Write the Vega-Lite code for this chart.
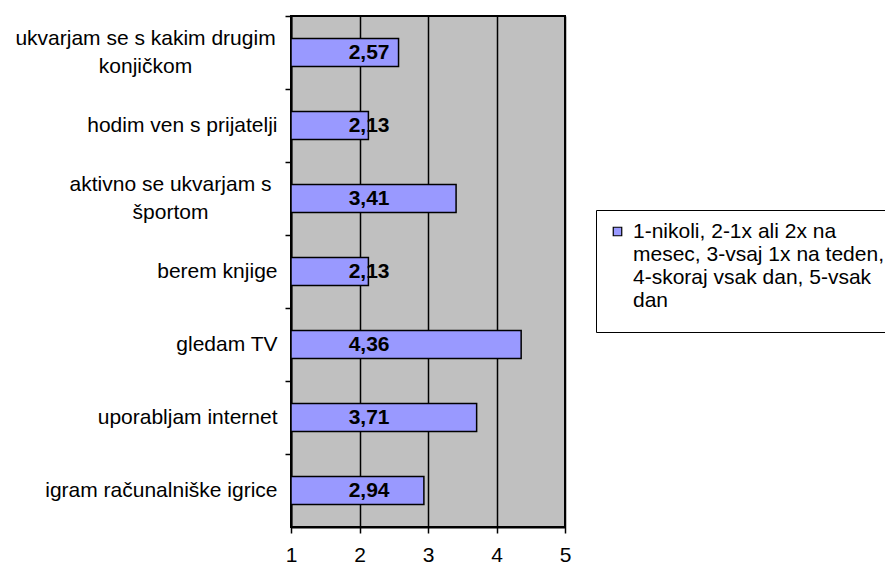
{
  "$schema": "https://vega.github.io/schema/vega-lite/v6.json",
  "width": 274,
  "height": 511,
  "autosize": "none",
  "padding": {"left": 291, "top": 16, "right": 320, "bottom": 37},
  "background": "white",
  "config": {
    "view": {"fill": "#C0C0C0", "stroke": "black", "strokeWidth": 2},
    "font": "Liberation Sans",
    "locale": {"number": {"decimal": ",", "thousands": ".", "grouping": [3], "currency": ["", " €"]}}
  },
  "data": {
    "values": [
      {"activity": "ukvarjam se s kakim drugim|konjičkom", "value": 2.57, "series": "1-nikoli, 2-1x ali 2x na|mesec, 3-vsaj 1x na teden,|4-skoraj vsak dan, 5-vsak|dan"},
      {"activity": "hodim ven s prijatelji", "value": 2.13, "series": "1-nikoli, 2-1x ali 2x na|mesec, 3-vsaj 1x na teden,|4-skoraj vsak dan, 5-vsak|dan"},
      {"activity": "aktivno se ukvarjam s|športom", "value": 3.41, "series": "1-nikoli, 2-1x ali 2x na|mesec, 3-vsaj 1x na teden,|4-skoraj vsak dan, 5-vsak|dan"},
      {"activity": "berem knjige", "value": 2.13, "series": "1-nikoli, 2-1x ali 2x na|mesec, 3-vsaj 1x na teden,|4-skoraj vsak dan, 5-vsak|dan"},
      {"activity": "gledam TV", "value": 4.36, "series": "1-nikoli, 2-1x ali 2x na|mesec, 3-vsaj 1x na teden,|4-skoraj vsak dan, 5-vsak|dan"},
      {"activity": "uporabljam internet", "value": 3.71, "series": "1-nikoli, 2-1x ali 2x na|mesec, 3-vsaj 1x na teden,|4-skoraj vsak dan, 5-vsak|dan"},
      {"activity": "igram računalniške igrice", "value": 2.94, "series": "1-nikoli, 2-1x ali 2x na|mesec, 3-vsaj 1x na teden,|4-skoraj vsak dan, 5-vsak|dan"}
    ]
  },
  "encoding": {
    "y": {
      "field": "activity",
      "type": "nominal",
      "sort": null,
      "scale": {"paddingInner": 0.616, "paddingOuter": 0.308},
      "axis": {
        "title": null,
        "labelExpr": "split(datum.label, '|')",
        "labelFontSize": 21,
        "labelColor": "black",
        "labelLineHeight": 28,
        "labelOffset": {"condition": {"test": "indexof(datum.label, '|') >= 0", "value": 22.5}, "value": 36.5},
        "labelAlign": {"condition": {"test": "indexof(datum.label, '|') >= 0", "value": "center"}, "value": "right"},
        "labelPadding": {"condition": [
          {"test": "indexof(datum.label, 'ukvarjam se s kakim') >= 0", "value": 140},
          {"test": "indexof(datum.label, 'aktivno') >= 0", "value": 115}
        ], "value": 8},
        "labelLimit": 400,
        "tickOffset": -36.5,
        "tickSize": 6,
        "tickColor": "black",
        "tickWidth": 1.5,
        "domainColor": "black",
        "domainWidth": 2,
        "grid": false
      }
    }
  },
  "layer": [
    {
      "mark": {"type": "bar", "stroke": "black", "strokeWidth": 1.5},
      "encoding": {
        "x": {
          "field": "value",
          "type": "quantitative",
          "scale": {"domain": [1, 5], "nice": false, "zero": false},
          "axis": {
            "title": null,
            "values": [1, 2, 3, 4, 5],
            "format": "d",
            "grid": true,
            "gridColor": "black",
            "gridWidth": 1.5,
            "gridOpacity": 1,
            "tickSize": 6,
            "tickColor": "black",
            "tickWidth": 1.5,
            "labelFontSize": 21,
            "labelColor": "black",
            "labelPadding": 11,
            "labelFlush": false,
            "domainColor": "black",
            "domainWidth": 2
          }
        },
        "x2": {"datum": 1},
        "color": {
          "field": "series",
          "type": "nominal",
          "scale": {"range": ["#9999FF"]},
          "legend": {
            "title": "\u00a0",
            "titleOrient": "bottom",
            "titleFontSize": 8,
            "titlePadding": 2,
            "orient": "none",
            "legendX": 305,
            "legendY": 194,
            "strokeColor": "black",
            "fillColor": "white",
            "padding": 11,
            "labelExpr": "split(datum.label, '|')",
            "labelFontSize": 21,
            "labelColor": "black",
            "labelLimit": 400,
            "labelOffset": 5,
            "symbolType": "square",
            "symbolSize": 72,
            "symbolStrokeColor": "black",
            "symbolStrokeWidth": 1.2,
            "symbolFillColor": "#9999FF"
          }
        }
      }
    },
    {
      "mark": {"type": "text", "fontWeight": "bold", "fontSize": 21, "align": "center", "baseline": "middle", "color": "black"},
      "encoding": {
        "x": {"datum": 2.14},
        "text": {"field": "value", "type": "quantitative", "format": ".2f"}
      }
    }
  ]
}
